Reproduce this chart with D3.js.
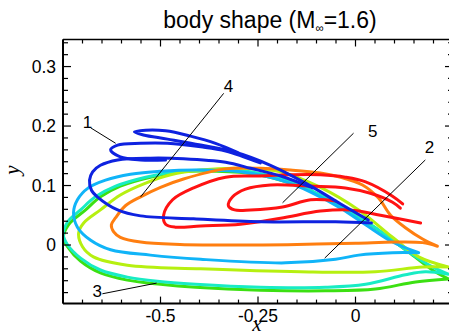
<!DOCTYPE html>
<html><head><meta charset="utf-8">
<script src="https://cdn.jsdelivr.net/npm/d3@7"></script>
<style>body{margin:0;background:#fff}svg{display:block}</style>
</head><body>
<script>
// ---- data (x, y in body coordinates) ----
const blueLine1 = [[-0.300,0.155],[-0.359,0.171],[-0.423,0.183],[-0.487,0.192],[-0.538,0.193],[-0.567,0.190],[-0.544,0.185],[-0.482,0.178],[-0.397,0.168],[-0.308,0.156],[-0.218,0.134],[-0.128,0.104],[-0.038,0.069],[0.033,0.042]];
const blueLine2 = [[-0.244,0.138],[-0.333,0.158],[-0.397,0.165],[-0.482,0.171],[-0.551,0.171],[-0.610,0.168],[-0.628,0.160],[-0.603,0.148],[-0.551,0.143],[-0.487,0.143]];
const blueLine3 = [[-0.110,0.096],[-0.192,0.116],[-0.269,0.129],[-0.333,0.139],[-0.441,0.145],[-0.526,0.146],[-0.610,0.143],[-0.654,0.134],[-0.674,0.123],[-0.682,0.109],[-0.677,0.092],[-0.662,0.081],[-0.610,0.059],[-0.551,0.049],[-0.415,0.044],[-0.244,0.039],[-0.051,0.039],[0.041,0.037]];
const redLine1 = [[0.121,0.069],[0.095,0.082],[0.026,0.106],[-0.026,0.114],[-0.090,0.118],[-0.167,0.118],[-0.249,0.116],[-0.333,0.114],[-0.415,0.096],[-0.469,0.076],[-0.492,0.050],[-0.487,0.035],[-0.462,0.030],[-0.397,0.032],[-0.295,0.035],[-0.192,0.045],[-0.090,0.057],[-0.013,0.059],[0.064,0.050],[0.167,0.037]];
const redLine2 = [[-0.051,0.074],[-0.115,0.076],[-0.187,0.064],[-0.269,0.059],[-0.310,0.059],[-0.326,0.066],[-0.315,0.081],[-0.282,0.094],[-0.218,0.101],[-0.115,0.099],[-0.026,0.096],[0.038,0.087],[0.095,0.072],[0.115,0.062]];
const orangeLoop = [[0.210,-0.002],[0.172,0.004],[0.100,0.005],[0.000,0.003],[-0.150,0.001],[-0.300,0.000],[-0.450,0.001],[-0.551,0.005],[-0.603,0.013],[-0.620,0.022],[-0.626,0.034],[-0.615,0.046],[-0.590,0.066],[-0.551,0.081],[-0.500,0.097],[-0.441,0.111],[-0.333,0.128],[-0.244,0.129],[-0.167,0.126],[-0.090,0.121],[-0.038,0.114],[0.018,0.101],[0.059,0.079],[0.090,0.050],[0.128,0.029],[0.172,0.010],[0.210,-0.002]];
const skyLoop = [[0.162,-0.013],[0.095,-0.013],[0.008,-0.017],[-0.051,-0.024],[-0.179,-0.030],[-0.397,-0.024],[-0.526,-0.017],[-0.628,-0.008],[-0.679,0.008],[-0.713,0.030],[-0.723,0.054],[-0.713,0.076],[-0.685,0.096],[-0.641,0.109],[-0.577,0.119],[-0.500,0.124],[-0.397,0.126],[-0.295,0.123],[-0.192,0.109],[-0.115,0.089],[-0.038,0.062],[0.026,0.034],[0.095,0.005],[0.162,-0.013]];
const yellowGreenLoop = [[0.238,-0.037],[0.172,-0.037],[0.051,-0.045],[-0.141,-0.045],[-0.397,-0.040],[-0.585,-0.034],[-0.672,-0.020],[-0.700,-0.003],[-0.710,0.020],[-0.697,0.037],[-0.654,0.059],[-0.603,0.084],[-0.538,0.104],[-0.474,0.118],[-0.397,0.126],[-0.295,0.129],[-0.192,0.123],[-0.090,0.097],[0.008,0.059],[0.095,0.013],[0.162,-0.020],[0.238,-0.037]];
const aquaLoop = [[0.238,-0.049],[0.179,-0.045],[0.128,-0.050],[0.026,-0.066],[-0.077,-0.071],[-0.244,-0.071],[-0.410,-0.066],[-0.508,-0.061],[-0.585,-0.054],[-0.654,-0.042],[-0.705,-0.022],[-0.738,0.000],[-0.749,0.017],[-0.738,0.039],[-0.705,0.059],[-0.667,0.081],[-0.615,0.099],[-0.538,0.114],[-0.462,0.123],[-0.372,0.126],[-0.269,0.123],[-0.167,0.106],[-0.090,0.084],[-0.023,0.059],[0.051,0.029],[0.128,-0.008],[0.192,-0.035],[0.238,-0.049]];
const greenLoop = [[0.238,-0.057],[0.154,-0.062],[0.051,-0.074],[-0.077,-0.077],[-0.244,-0.076],[-0.410,-0.071],[-0.500,-0.066],[-0.585,-0.059],[-0.654,-0.047],[-0.705,-0.027],[-0.738,-0.003],[-0.749,0.012],[-0.736,0.034],[-0.692,0.059],[-0.654,0.081],[-0.603,0.099],[-0.526,0.114],[-0.449,0.123],[-0.359,0.124],[-0.256,0.119],[-0.154,0.101],[-0.077,0.079],[-0.013,0.057],[0.059,0.025],[0.136,-0.012],[0.197,-0.042],[0.238,-0.057]];

const seriesData = [greenLoop, aquaLoop, yellowGreenLoop, skyLoop, orangeLoop, redLine1, redLine2, blueLine1, blueLine2, blueLine3];
const seriesColors = ["#3ce012","#18ecc4","#b6f010","#10b4f8","#ff7e10","#ff1212","#ff1212","#0e22e0","#0e22e0","#0e22e0"];

const xTickValues = [-0.5,-0.25,0];
const xTickLabels = ["-0.5","-0.25","0"];
const yTickValues = [0,0.1,0.2,0.3];
const yTickLabels = ["0","0.1","0.2","0.3"];

const annoText = ["1","4","5","2","3"];
const annoPos = [[-0.687,0.197],[-0.326,0.257],[0.044,0.182],[0.190,0.155],[-0.662,-0.087]];
const leaderFrom = [[-0.679,0.197],[-0.338,0.255],[-0.005,0.188],[0.179,0.143],[-0.649,-0.082]];
const leaderTo = [[-0.615,0.171],[-0.551,0.081],[-0.187,0.071],[-0.079,-0.022],[-0.510,-0.064]];

// ---- drawing ----
const W = 449, H = 336;
const svg = d3.select("body").append("svg").attr("width", W).attr("height", H);
const x = d3.scaleLinear().domain([-0.75,0.25]).range([63,453]);
const y = d3.scaleLinear().domain([-0.0985,0.3455]).range([303.6,39.5]);
const [x0,x1] = x.range(), [y0,y1] = y.range();

svg.append("defs").append("clipPath").attr("id","clip")
  .append("rect").attr("x",x0).attr("y",y1).attr("width",x1-x0).attr("height",y0-y1);

const line = d3.line().x(d=>x(d[0])).y(d=>y(d[1])).curve(d3.curveCatmullRom.alpha(0.5));
const g = svg.append("g").attr("clip-path","url(#clip)");
seriesData.forEach((s,i)=>{
  g.append("path").attr("d",line(s)).attr("fill","none")
   .attr("stroke",seriesColors[i]).attr("stroke-width",3).attr("stroke-linejoin","round").attr("stroke-linecap","round");
});

// leaders and labels
annoText.forEach((t,i)=>{
  svg.append("line").attr("x1",x(leaderFrom[i][0])).attr("y1",y(leaderFrom[i][1]))
    .attr("x2",x(leaderTo[i][0])).attr("y2",y(leaderTo[i][1])).attr("stroke","#000").attr("stroke-width",1);
  svg.append("text").attr("x",x(annoPos[i][0])).attr("y",y(annoPos[i][1]))
    .attr("text-anchor","middle").attr("font-family","Liberation Sans, Arial, sans-serif")
    .attr("font-size",17).text(t);
});

// frame
const frame = svg.append("g").attr("stroke","#000").attr("fill","none");
frame.append("line").attr("x1",x0).attr("x2",x0).attr("y1",y1).attr("y2",y0).attr("stroke-width",2);
frame.append("line").attr("x1",x0).attr("x2",x1).attr("y1",y0).attr("y2",y0).attr("stroke-width",2);
frame.append("line").attr("x1",x0).attr("x2",x1).attr("y1",y1).attr("y2",y1).attr("stroke-width",1.5);
frame.append("line").attr("x1",x1).attr("x2",x1).attr("y1",y1).attr("y2",y0).attr("stroke-width",1.5);

// ticks
const xMinor = d3.range(-0.75,0.2501,0.05).map(v=>+v.toFixed(3));
const yMinor = d3.range(-0.08,0.3401,0.02).map(v=>+v.toFixed(3));
const isMajX = v => Math.abs(v/0.25 - Math.round(v/0.25))<1e-6;
const isMajY = v => Math.abs(v/0.1 - Math.round(v/0.1))<1e-6;
const tk = svg.append("g").attr("stroke","#000").attr("stroke-width",1.2);
xMinor.forEach(v=>{
  const L = isMajX(v)?7:4, px = x(v);
  tk.append("line").attr("x1",px).attr("x2",px).attr("y1",y0).attr("y2",y0-L);
  tk.append("line").attr("x1",px).attr("x2",px).attr("y1",y1).attr("y2",y1+L);
});
yMinor.forEach(v=>{
  const L = isMajY(v)?8:5, py = y(v);
  tk.append("line").attr("x1",x0).attr("x2",x0+L).attr("y1",py).attr("y2",py);
  tk.append("line").attr("x1",x1).attr("x2",x1-L).attr("y1",py).attr("y2",py);
});

const font = "Liberation Sans, Arial, sans-serif";
xTickValues.forEach((v,i)=>{
  svg.append("text").attr("x",x(v)).attr("y",322).attr("text-anchor","middle")
    .attr("font-family",font).attr("font-size",17.5).text(xTickLabels[i]);
});
yTickValues.forEach((v,i)=>{
  svg.append("text").attr("x",56).attr("y",y(v)+6).attr("text-anchor","end")
    .attr("font-family",font).attr("font-size",17.5).text(yTickLabels[i]);
});

// axis titles
svg.append("text").attr("x",257).attr("y",331).attr("text-anchor","middle")
  .attr("font-family","Liberation Serif, Times New Roman, serif").attr("font-style","italic")
  .attr("font-size",21).text("x");
svg.append("text").attr("transform","translate(19,170) rotate(-90)").attr("text-anchor","middle")
  .attr("font-family","Liberation Serif, Times New Roman, serif").attr("font-style","italic")
  .attr("font-size",21).text("y");

// title
const title = svg.append("text").attr("x",270).attr("y",28).attr("text-anchor","middle")
  .attr("font-family",font).attr("font-size",23);
title.append("tspan").text("body shape (M");
title.append("tspan").attr("font-size",11.5).attr("dy",4).text("∞");
title.append("tspan").attr("dy",-4).text("=1.6)");
</script>
</body></html>
